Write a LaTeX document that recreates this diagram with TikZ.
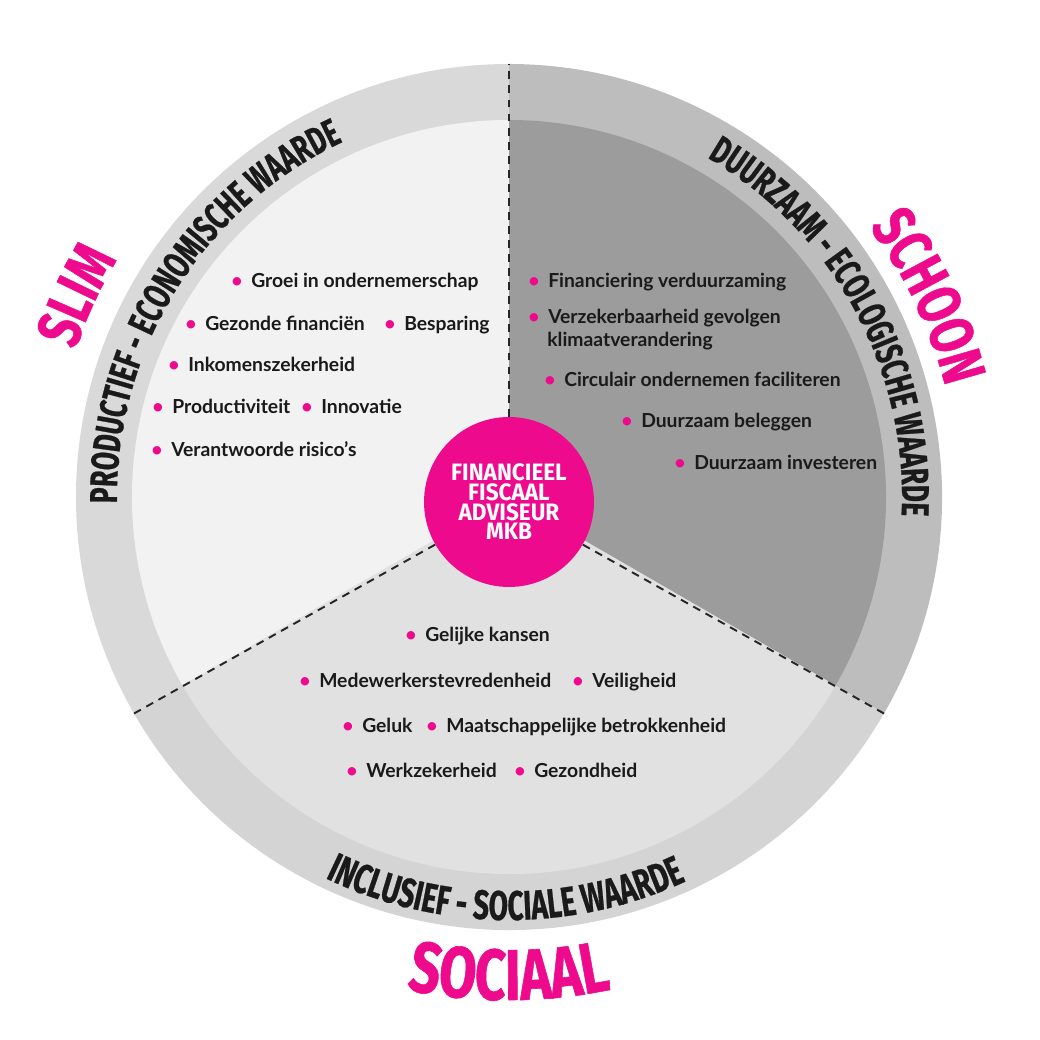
\documentclass[tikz,border=0pt]{standalone}
\usepackage{fontspec}
\setmainfont{Lato}
\newfontfamily\hubfamily{Fira Sans}[FakeStretch=0.95]
\newfontfamily\ringfamily{Fira Sans}[FakeStretch=0.68,FakeBold=0.6]
\newfontfamily\pinkfamily{Fira Sans}[FakeStretch=0.75,FakeBold=0.8]
\usetikzlibrary{decorations.text}

\definecolor{mkbpink}{HTML}{EE0A8C}
\definecolor{textblack}{HTML}{1A1A1A}
\definecolor{ringA}{HTML}{D9D9D9}
\definecolor{innerA}{HTML}{F2F2F2}
\definecolor{ringB}{HTML}{BDBDBD}
\definecolor{innerB}{HTML}{9C9C9C}
\definecolor{ringC}{HTML}{D4D4D4}
\definecolor{innerC}{HTML}{E1E1E1}

\newcommand\bul{\textcolor{mkbpink}{\textbullet}\hspace{0.45em}}
\newcommand\ringfont{\ringfamily\bfseries\fontsize{22pt}{22pt}\selectfont}
\newcommand\lowringfont{\ringfamily\bfseries\fontsize{23.5pt}{23.5pt}\selectfont}
\newcommand\bigfont{\pinkfamily\bfseries\fontsize{35pt}{35pt}\selectfont}
\newcommand\hugefont{\pinkfamily\bfseries\fontsize{41pt}{41pt}\selectfont}

\begin{document}
\begin{tikzpicture}[
  x=0.02cm,y=0.02cm,
  item/.style={anchor=base west,inner sep=0pt,text=textblack,
    font=\fontsize{11pt}{13pt}\selectfont\bfseries},
  hub/.style={circle,fill=mkbpink,minimum size=3.4cm,inner sep=0pt,
    text=white,align=center,font=\hubfamily\bfseries\fontsize{13.5pt}{11.2pt}\selectfont},
  divider/.style={draw=black!85,line width=1.1pt,dash pattern=on 4.5pt off 3.5pt},
  ringlabel/.style={decorate,decoration={text along path,text align=center,
    text color=textblack,text={|\ringfont|#1}}},
  lowringlabel/.style={decorate,decoration={text along path,text align=center,
    text color=textblack,text={|\lowringfont|#1}}},
  biglabel/.style={decorate,decoration={text along path,text align=center,
    text color=mkbpink,text={|\bigfont|#1}}},
  hugelabel/.style={decorate,decoration={text along path,text align=center,
    text color=mkbpink,text={|\hugefont|#1}}}
]
\useasboundingbox (-509,-543) rectangle (531,497);

\fill[ringA] (0,0) -- (90:433) arc[start angle=90,end angle=210,radius=433] -- cycle;
\fill[ringB] (0,0) -- (-30:433) arc[start angle=-30,end angle=90,radius=433] -- cycle;
\fill[ringC] (0,0) -- (210:433) arc[start angle=210,end angle=330,radius=433] -- cycle;
\fill[innerA] (0,0) -- (90:377) arc[start angle=90,end angle=210,radius=377] -- cycle;
\fill[innerB] (0,0) -- (-30:377) arc[start angle=-30,end angle=90,radius=377] -- cycle;
\fill[innerC] (0,0) -- (210:377) arc[start angle=210,end angle=330,radius=377] -- cycle;

\node[hub] (hub) at (0,-5) {FINANCIEEL\\FISCAAL\\ADVISEUR\\MKB};

\coordinate (top) at (90:433);
\coordinate (left) at (210:433);
\coordinate (right) at (330:433);
\draw[divider] (hub.90) -- (top);
\draw[divider] (hub.210) -- (left);
\draw[divider] (hub.330) -- (right);

\path[ringlabel={PRODUCTIEF - ECONOMISCHE WAARDE}]
  (188:392) arc[start angle=188,end angle=108,radius=392];
\path[ringlabel={DUURZAAM - ECOLOGISCHE WAARDE}]
  (68.5:393) arc[start angle=68.5,end angle=-11.5,radius=393];
\path[lowringlabel={INCLUSIEF - SOCIALE WAARDE}]
  (229.5:423) arc[start angle=229.5,end angle=309.5,radius=423];

\path[biglabel={SLIM}] (185:458) arc[start angle=185,end angle=125,radius=458];
\path[biglabel={SCHOON}] (55.5:450) arc[start angle=55.5,end angle=-4.5,radius=450];
\path[hugelabel={SOCIAAL}] (240:503) arc[start angle=240,end angle=300,radius=503];

\node[item] (slim1) at (-278,209) {\bul Groei in ondernemerschap};
\node[item] (slim2) at (-324,166) {\bul Gezonde financiën};
\node[item] (slim3) at (-125,166) {\bul Besparing};
\node[item] (slim4) at (-341,125) {\bul Inkomenszekerheid};
\node[item] (slim5) at (-357,83) {\bul Productiviteit};
\node[item] (slim6) at (-208,83) {\bul Innovatie};
\node[item] (slim7) at (-358,40) {\bul Verantwoorde risico’s};

\node[item] (schoon1) at (19,209) {\bul Financiering verduurzaming};
\node[item] (schoon2) at (19,173) {\bul Verzekerbaarheid gevolgen};
\node[item] (schoon2b) at (38,150) {klimaatverandering};
\node[item] (schoon3) at (35,110) {\bul Circulair ondernemen faciliteren};
\node[item] (schoon4) at (112,69) {\bul Duurzaam beleggen};
\node[item] (schoon5) at (165,27) {\bul Duurzaam investeren};

\node[item] (sociaal1) at (-104,-144) {\bul Gelijke kansen};
\node[item] (sociaal2) at (-210,-190) {\bul Medewerkerstevredenheid};
\node[item] (sociaal3) at (63,-190) {\bul Veiligheid};
\node[item] (sociaal4) at (-167,-235) {\bul Geluk};
\node[item] (sociaal5) at (-83,-235) {\bul Maatschappelijke betrokkenheid};
\node[item] (sociaal6) at (-163,-280) {\bul Werkzekerheid};
\node[item] (sociaal7) at (5,-280) {\bul Gezondheid};
\end{tikzpicture}
\end{document}
